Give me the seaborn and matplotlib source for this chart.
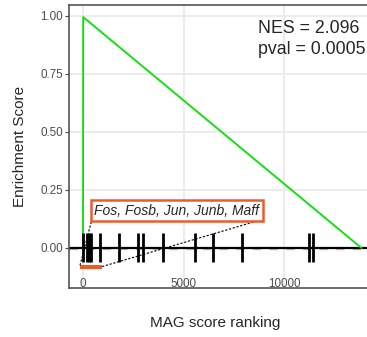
import matplotlib
matplotlib.use("Agg")
import matplotlib.pyplot as plt
import pandas as pd
import seaborn as sns

# running enrichment score (green curve)
curve_rank = [0, 10, 13850]
curve_es = [0.0, 0.995, 0.0]

# positions of the gene set hits in the ranking
hit_ranks = [10, 200, 300, 380, 845, 1805, 2750, 2970, 3995,
             5570, 6480, 7895, 11260, 11460]

# leading edge genes (first five hits)
leading_genes = ["Fos", "Fosb", "Jun", "Junb", "Maff"]
leading_span = [-150, 950]

nes_value = 2.096
pval_value = 0.0005

x_ticks = [0, 5000, 10000]
y_ticks = [0.00, 0.25, 0.50, 0.75, 1.00]

sns.set_theme(style="whitegrid")
plt.rcParams["font.family"] = ["Liberation Sans", "DejaVu Sans"]

fig = plt.figure(figsize=(3.67, 3.37), dpi=100)
ax = fig.add_axes([0.188, 0.1454, 0.832, 0.8398])

curve = pd.DataFrame({"rank": curve_rank, "es": curve_es})

# baseline
ax.axhline(-0.006, color="#F2A0A0", lw=1.0, ls=(0, (6, 6)), zorder=1)
ax.axhline(0, color="black", lw=1.6, zorder=2)

sns.lineplot(data=curve, x="rank", y="es", color="#00E600", lw=1.3,
             estimator=None, sort=False, ax=ax, zorder=3)

# hit ticks
ax.vlines(hit_ranks, -0.06, 0.065, color="black", lw=2.0, zorder=4)

# leading edge bracket + label
ax.plot(leading_span, [-0.082, -0.082], color="#EE5A2A", lw=3, zorder=5,
        solid_capstyle="butt")
label = ax.annotate(", ".join(leading_genes), xy=(leading_span[0], -0.075),
                    xytext=(550, 0.16), textcoords="data",
                    fontsize=10, style="italic", ha="left", va="center",
                    bbox=dict(boxstyle="square,pad=0.25", fc="white",
                              ec="#EE5A2A", lw=1.8),
                    zorder=6)
ax.plot([leading_span[0], 450], [-0.075, 0.125], color="black", lw=0.8,
        ls=(0, (2, 1.5)), zorder=5)
ax.plot([leading_span[1], 9000], [-0.08, 0.125], color="black", lw=0.8,
        ls=(0, (2, 1.5)), zorder=5)

ax.set_xlim(-697, 14492)
ax.set_ylim(-0.1724, 1.047)
ax.set_xticks(x_ticks)
ax.set_yticks(y_ticks)
ax.set_xticklabels([str(t) for t in x_ticks])
ax.set_yticklabels([f"{t:.2f}" for t in y_ticks])
ax.set_xlabel("")
ax.set_ylabel("")

ax.grid(True, color="#EBEBEB", lw=1.3)
ax.set_facecolor("white")
ax.tick_params(axis="x", length=0, pad=-7.5, labelsize=8.4, labelcolor="#4D4D4D")
ax.tick_params(axis="y", length=3, width=0.8, color="#4D4D4D", pad=1.5,
               labelsize=8.4, labelcolor="#4D4D4D", left=True)
for side in ["left", "top", "bottom"]:
    ax.spines[side].set_color("#555555")
    ax.spines[side].set_linewidth(1.2)
ax.spines["right"].set_visible(False)

fig.text(258 / 367, 1 - 20 / 337,
         f"NES = {nes_value:.3f}\npval = {pval_value}",
         fontsize=12.8, ha="left", va="top", linespacing=1.3)
fig.text(20 / 367, 1 - 146.5 / 337, "Enrichment Score", rotation=90,
         fontsize=11, ha="center", va="center")
fig.text(215 / 367, 1 - 323 / 337, "MAG score ranking",
         fontsize=11, ha="center", va="center")

fig.savefig("out.png", dpi=100)
